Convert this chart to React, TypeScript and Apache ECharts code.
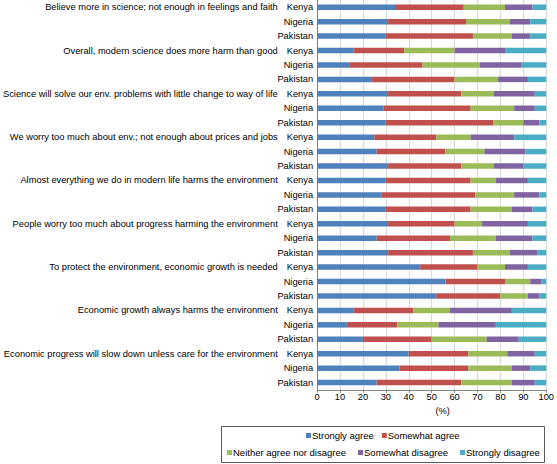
import React, { useEffect, useRef } from "react";
import * as echarts from "echarts";

const statements = [
  "Believe more in science; not enough in feelings and faith",
  "Overall, modern science does more harm than good",
  "Science will solve our env. problems with little change to way of life",
  "We worry too much about env.; not enough about prices and jobs",
  "Almost everything we do in modern life harms the environment",
  "People worry too much about progress harming the environment",
  "To protect the environment, economic growth is needed",
  "Economic growth always harms the environment",
  "Economic progress will slow down unless care for the environment",
];
const countries = ["Kenya", "Nigeria", "Pakistan"];

const seriesNames = [
  "Strongly agree",
  "Somewhat agree",
  "Neither agree nor disagree",
  "Somewhat disagree",
  "Strongly disagree",
];

const stronglyAgree = [34, 31, 30, 16, 14, 24, 31, 29, 30, 25, 26, 31, 30, 28, 30, 31, 26, 31, 45, 56, 52, 16, 13, 20, 40, 36, 26];
const somewhatAgree = [30, 34, 38, 22, 32, 36, 32, 38, 47, 27, 30, 32, 37, 41, 37, 29, 32, 37, 25, 26, 28, 26, 22, 30, 26, 30, 37];
const neither = [18, 19, 17, 22, 25, 19, 14, 19, 13, 15, 17, 14, 11, 17, 18, 12, 20, 16, 12, 11, 12, 16, 18, 24, 17, 19, 22];
const somewhatDisagree = [12, 9, 8, 22, 18, 13, 18, 9, 7, 19, 18, 13, 14, 11, 9, 20, 16, 12, 10, 5, 5, 27, 25, 14, 12, 8, 10];
const stronglyDisagree = [6, 7, 7, 18, 11, 8, 5, 5, 3, 14, 9, 10, 8, 3, 6, 8, 6, 4, 8, 2, 3, 15, 22, 12, 5, 7, 5];

const colors = ["#4F81BD", "#C0504D", "#9BBB59", "#8064A2", "#4BACC6"];

export default function App() {
  const ref = useRef<HTMLDivElement>(null);
  useEffect(() => {
    if (!ref.current) return;
    const chart = echarts.init(ref.current, undefined, { renderer: "svg" });
    const categories: string[] = [];
    statements.forEach((s, i) => countries.forEach((c) => categories.push(i + "|" + c)));
    const values = [stronglyAgree, somewhatAgree, neither, somewhatDisagree, stronglyDisagree];
    const font = "Liberation Sans, Arial, sans-serif";
    const legendText = { fontSize: 9.5, color: "#000", fontFamily: font, padding: [0, 0, 0, -4] };
    chart.setOption({
      animation: false,
      textStyle: { fontFamily: font },
      grid: { left: 315, right: 8, top: -1.2, height: 391, containLabel: false },
      xAxis: {
        type: "value",
        min: 0,
        max: 100,
        interval: 10,
        name: "(%)",
        nameLocation: "middle",
        nameGap: 14,
        nameTextStyle: { fontSize: 9.3, color: "#000", fontFamily: font, padding: [0, 0, 0, 22] },
        axisLine: { show: true, lineStyle: { color: "#868686" } },
        axisTick: { show: true, length: 3, lineStyle: { color: "#868686" } },
        axisLabel: { fontSize: 9.3, color: "#000", margin: 3, fontFamily: font },
        splitLine: { show: true, lineStyle: { color: "#D9D9D9", width: 1 } },
      },
      yAxis: {
        type: "category",
        inverse: true,
        data: categories,
        axisLine: { show: true, lineStyle: { color: "#7F7F7F" } },
        axisTick: { show: false },
        axisLabel: {
          interval: 0,
          margin: 4,
          fontSize: 9.3,
          color: "#000",
          fontFamily: font,
          formatter: (v: string) => {
            const [i, c] = v.split("|");
            if (c === "Kenya") return "{s|" + statements[Number(i)] + "}{c|" + c + "}";
            return "{c|" + c + "}";
          },
          rich: {
            s: { fontSize: 9.3, color: "#000", fontFamily: font, padding: [0, 9, 0, 0] },
            c: { fontSize: 9.3, color: "#000", fontFamily: font },
          },
        },
      },
      legend: [
        {
          data: seriesNames.slice(0, 2),
          left: 306,
          top: 430.5,
          itemWidth: 5,
          itemHeight: 5,
          itemGap: 8,
          icon: "rect",
          padding: 0,
          textStyle: legendText,
        },
        {
          data: seriesNames.slice(2),
          left: 227,
          top: 447.5,
          itemWidth: 5,
          itemHeight: 5,
          itemGap: 12,
          icon: "rect",
          padding: 0,
          textStyle: legendText,
        },
      ],
      graphic: [
        {
          type: "rect",
          shape: { x: 221.5, y: 426.5, width: 323, height: 36 },
          style: { fill: "none", stroke: "#595959", lineWidth: 1 },
          silent: true,
        },
      ],
      series: seriesNames.map((n, k) => ({
        name: n,
        type: "bar",
        stack: "total",
        barWidth: 5.5,
        itemStyle: { color: colors[k] },
        data: values[k],
      })),
    });
    return () => chart.dispose();
  }, []);
  return (
    <div
      ref={ref}
      style={{ position: "absolute", left: 0, top: 0, width: 557, height: 464, background: "#fff" }}
    />
  );
}
